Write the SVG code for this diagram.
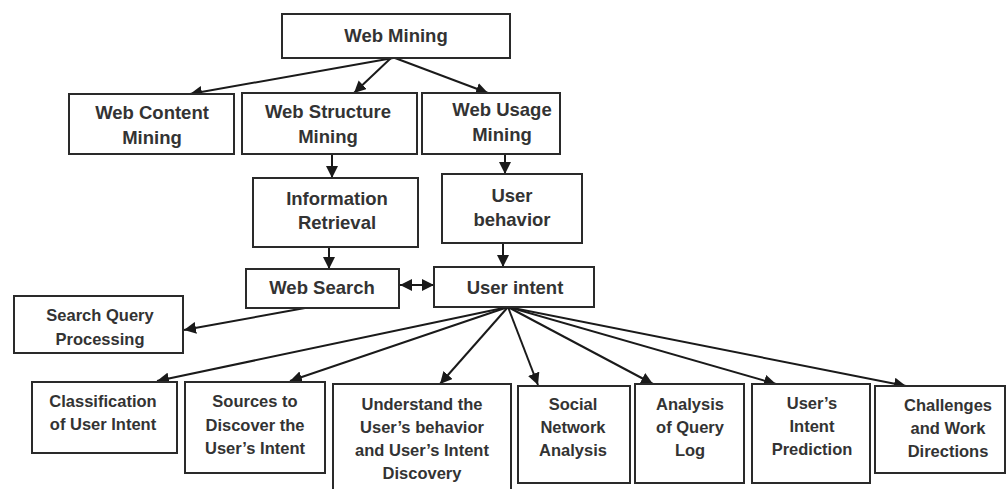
<svg xmlns="http://www.w3.org/2000/svg" width="1008" height="489" viewBox="0 0 1008 489">
<style>
.box{fill:#fff;stroke:#2a2a2a;stroke-width:2}
.t1{font-family:"Liberation Sans",Arial,sans-serif;font-weight:bold;font-size:18.5px;fill:#333;text-anchor:middle}
.t2{font-family:"Liberation Sans",Arial,sans-serif;font-weight:bold;font-size:16.5px;fill:#333;text-anchor:middle}
.c{stroke:#1a1a1a;stroke-width:2;fill:none;marker-end:url(#ah)}
</style>
<defs>
<marker id="ah" markerUnits="userSpaceOnUse" markerWidth="14" markerHeight="12" refX="12" refY="6" orient="auto-start-reverse">
<path d="M0,0 L12,6 L0,12 z" fill="#1a1a1a"/>
</marker>
</defs>
<rect width="1008" height="489" fill="#fff"/>
<g id="connectors">
<line class="c" x1="393" y1="58" x2="190" y2="94"/>
<line class="c" x1="391" y1="58" x2="354" y2="93"/>
<line class="c" x1="395" y1="58" x2="488" y2="93"/>
<line class="c" x1="332" y1="154" x2="332" y2="178"/>
<line class="c" x1="505" y1="154" x2="505" y2="174"/>
<line class="c" x1="329" y1="247" x2="329" y2="269"/>
<line class="c" x1="503" y1="243" x2="503" y2="267"/>
<line class="c" x1="400" y1="285" x2="434" y2="285" marker-start="url(#ah)"/>
<line class="c" x1="305" y1="308" x2="184" y2="330"/>
<line class="c" x1="508" y1="307" x2="157" y2="381"/>
<line class="c" x1="508" y1="307" x2="290" y2="381"/>
<line class="c" x1="508" y1="307" x2="440" y2="384"/>
<line class="c" x1="508" y1="307" x2="538" y2="385"/>
<line class="c" x1="508" y1="307" x2="653" y2="384"/>
<line class="c" x1="508" y1="307" x2="776" y2="384"/>
<line class="c" x1="508" y1="307" x2="906" y2="386"/>
</g>
<g id="web-mining"><rect class="box" x="282" y="14" width="228" height="44"/><text class="t1" x="396" y="42">Web Mining</text></g>
<g id="web-content-mining"><rect class="box" x="69" y="94" width="165" height="60"/><text class="t1" x="152" y="119">Web Content</text><text class="t1" x="152" y="144">Mining</text></g>
<g id="web-structure-mining"><rect class="box" x="242" y="93" width="175" height="61"/><text class="t1" x="328" y="118">Web Structure</text><text class="t1" x="328" y="143">Mining</text></g>
<g id="web-usage-mining"><rect class="box" x="422" y="93" width="138" height="61"/><text class="t1" x="502" y="116">Web Usage</text><text class="t1" x="502" y="141">Mining</text></g>
<g id="information-retrieval"><rect class="box" x="253" y="178" width="165" height="69"/><text class="t1" x="337" y="205">Information</text><text class="t1" x="337" y="229">Retrieval</text></g>
<g id="user-behavior"><rect class="box" x="442" y="174" width="140" height="69"/><text class="t1" x="512" y="202">User</text><text class="t1" x="512" y="226">behavior</text></g>
<g id="web-search"><rect class="box" x="246" y="269" width="153" height="39"/><text class="t1" x="322" y="294">Web Search</text></g>
<g id="user-intent"><rect class="box" x="434" y="267" width="160" height="40"/><text class="t1" x="515" y="294">User intent</text></g>
<g id="search-query-processing"><rect class="box" x="14" y="296" width="169" height="57"/><text class="t2" x="100" y="321">Search Query</text><text class="t2" x="100" y="345">Processing</text></g>
<g id="classification"><rect class="box" x="32" y="382" width="145" height="71"/><text class="t2" x="103" y="407">Classification</text><text class="t2" x="103" y="430">of User Intent</text></g>
<g id="sources"><rect class="box" x="185" y="382" width="140" height="91"/><text class="t2" x="255" y="407">Sources to</text><text class="t2" x="255" y="431">Discover the</text><text class="t2" x="255" y="454">User’s Intent</text></g>
<g id="understand"><rect class="box" x="333" y="384" width="178" height="110"/><text class="t2" x="422" y="410">Understand the</text><text class="t2" x="422" y="433">User’s behavior</text><text class="t2" x="422" y="456">and User’s Intent</text><text class="t2" x="422" y="479">Discovery</text></g>
<g id="social-network-analysis"><rect class="box" x="518" y="386" width="112" height="97"/><text class="t2" x="573" y="410">Social</text><text class="t2" x="573" y="433">Network</text><text class="t2" x="573" y="456">Analysis</text></g>
<g id="analysis-query-log"><rect class="box" x="635" y="384" width="109" height="99"/><text class="t2" x="690" y="410">Analysis</text><text class="t2" x="690" y="433">of Query</text><text class="t2" x="690" y="456">Log</text></g>
<g id="intent-prediction"><rect class="box" x="752" y="384" width="118" height="99"/><text class="t2" x="812" y="409">User’s</text><text class="t2" x="812" y="432">Intent</text><text class="t2" x="812" y="455">Prediction</text></g>
<g id="challenges"><rect class="box" x="875" y="386" width="130" height="87"/><text class="t2" x="948" y="411">Challenges</text><text class="t2" x="948" y="434">and Work</text><text class="t2" x="948" y="457">Directions</text></g>
</svg>
